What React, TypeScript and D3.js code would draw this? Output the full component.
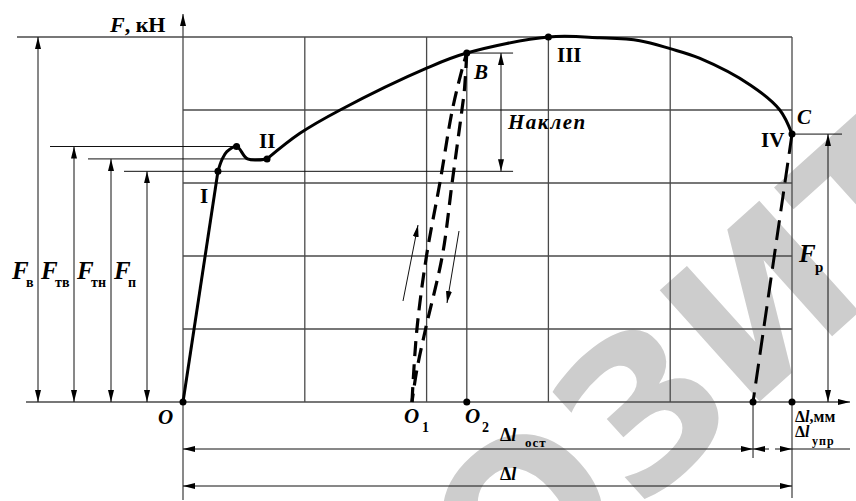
import React from "react";
import * as d3 from "d3";

// Grid cell indices (1 unit = one grid cell)
const gridX = [0, 1, 2, 3, 4, 5];
const gridY = [0, 1, 2, 3, 4, 5];

// Characteristic loads, kN (in grid units)
const Fp = 3.16; // proportional limit (point I)
const Ftn = 3.33; // lower yield
const Ftv = 3.5; // upper yield
const Fv = 5.0; // ultimate (point III)
const Fr = 3.67; // rupture (point C)

// Elongation marks
const dO2 = 2.33;
const dElastEnd = 4.68;
const dC = 5.0;

// Tension curve segments [Δl, F]
const elasticPart: [number, number][] = [
  [0, 0],
  [0.287, Fp],
];
const yieldPart: [number, number][] = [
  [0.287, Fp],
  [0.32, 3.32],
  [0.36, 3.43],
  [0.44, Ftv],
  [0.53, Ftn],
  [0.69, Ftn],
];
const hardeningPart: [number, number][] = [
  [0.69, Ftn],
  [0.96, 3.68],
  [1.29, 4.0],
  [2.01, 4.58],
  [2.33, 4.78],
  [3.0, Fv],
  [3.42, 4.99],
  [3.75, 4.95],
  [4.0, 4.84],
  [4.24, 4.71],
  [4.66, 4.34],
  [4.9, 4.0],
  [5.0, Fr],
];
// Reloading / unloading loop between O1 and B
const reloadPath: [number, number][] = [
  [1.88, 0],
  [1.92, 0.99],
  [2.0, 2.01],
  [2.11, 3.01],
  [2.21, 3.99],
  [2.29, 4.55],
  [2.33, 4.78],
];
const unloadPath: [number, number][] = [
  [2.33, 4.78],
  [2.31, 4.27],
  [2.29, 4.0],
  [2.21, 3.01],
  [2.13, 2.01],
  [1.99, 0.99],
  [1.92, 0.44],
  [1.88, 0],
];
const breakUnload: [number, number][] = [
  [dC, Fr],
  [dElastEnd, 0],
];

const pointB: [number, number] = [2.33, 4.78];
const pointIII: [number, number] = [3.0, Fv];
const upperYield: [number, number] = [0.44, Ftv];
const pointII: [number, number] = [0.69, Ftn];
const pointI: [number, number] = [0.287, Fp];

const leftLoads = [
  { v: Fv, x: 38, lineFrom: 17, lineTo: 5, labelX: 12, sub: "в" },
  { v: Ftv, x: 74, lineFrom: 50, lineTo: 0.44, labelX: 41, sub: "тв" },
  { v: Ftn, x: 111, lineFrom: 88, lineTo: 0.69, labelX: 77, sub: "тн" },
  { v: Fp, x: 147, lineFrom: 124, lineTo: 2.71, labelX: 114, sub: "п" },
];

const SERIF = "Liberation Serif";

export default function App() {
  const x = d3.scaleLinear().domain([0, 5]).range([183, 792]);
  const y = d3.scaleLinear().domain([0, 5]).range([402, 37]);

  const lin = d3
    .line<[number, number]>()
    .x((d) => x(d[0]))
    .y((d) => y(d[1]));
  const smooth = d3
    .line<[number, number]>()
    .x((d) => x(d[0]))
    .y((d) => y(d[1]))
    .curve(d3.curveCatmullRom.alpha(0.5));

  const thin = { stroke: "#111", strokeWidth: 1 };
  const grid = { stroke: "#4a4a4a", strokeWidth: 1.3 };

  const dots: [number, number][] = [
    [0, 0],
    pointI,
    upperYield,
    pointII,
    pointB,
    pointIII,
    [dC, Fr],
    [dO2, 0],
    [dElastEnd, 0],
    [dC, 0],
  ];

  const bt = {
    fontFamily: SERIF,
    fontWeight: 700,
    fill: "#000",
  };

  return (
    <svg
      width={856}
      height={501}
      style={{ position: "absolute", left: 0, top: 0, background: "#fff" }}
    >
      <defs>
        <marker
          id="ah"
          viewBox="0 0 12 6"
          refX={12}
          refY={3}
          markerWidth={12}
          markerHeight={6}
          markerUnits="userSpaceOnUse"
          orient="auto-start-reverse"
        >
          <path d="M0,0 L12,3 L0,6 Z" fill="#000" />
        </marker>
      </defs>

      {/* watermark */}
      <text
        transform="translate(508,628) rotate(-42)"
        fontFamily="DejaVu Sans"
        fontWeight={700}
        fontSize={205}
        fill="#cdcdcd"
      >
        ОЗИТ
      </text>

      {/* grid */}
      {gridY.slice(1, 5).map((g) => (
        <line key={"gy" + g} x1={x(0)} x2={x(5)} y1={y(g)} y2={y(g)} {...grid} />
      ))}
      {gridX.slice(1, 5).map((g) => (
        <line key={"gx" + g} x1={x(g)} x2={x(g)} y1={y(0)} y2={y(5)} {...grid} />
      ))}
      <line x1={x(5)} x2={x(5)} y1={y(5)} y2={498} {...grid} />
      <line x1={x(dO2)} x2={x(dO2)} y1={y(pointB[1])} y2={y(0)} {...grid} />

      {/* axes */}
      <line x1={x(0)} x2={x(0)} y1={500} y2={14} {...grid} markerEnd="url(#ah)" />
      <line x1={26} x2={850} y1={y(0)} y2={y(0)} {...grid} markerEnd="url(#ah)" />

      {/* characteristic load lines and dimension arrows */}
      {leftLoads.map((l) => (
        <g key={l.sub}>
          <line
            x1={l.lineFrom}
            x2={x(l.lineTo)}
            y1={y(l.v)}
            y2={y(l.v)}
            {...(l.v === Fv ? grid : thin)}
          />
          <line
            x1={l.x}
            x2={l.x}
            y1={y(0)}
            y2={y(l.v)}
            {...thin}
            markerStart="url(#ah)"
            markerEnd="url(#ah)"
          />
          <text x={l.labelX} y={279} {...bt} fontSize={25} fontStyle="italic">
            F
          </text>
          <text x={l.labelX + 14} y={287} {...bt} fontSize={14}>
            {l.sub}
          </text>
        </g>
      ))}

      {/* work hardening dimension */}
      <line x1={x(pointB[0])} x2={x(2.71)} y1={y(pointB[1])} y2={y(pointB[1])} {...thin} />
      <line
        x1={501}
        x2={501}
        y1={y(pointB[1])}
        y2={y(Fp)}
        {...thin}
        markerStart="url(#ah)"
        markerEnd="url(#ah)"
      />

      {/* rupture load dimension */}
      <line x1={x(dC)} x2={842} y1={y(Fr)} y2={y(Fr)} {...thin} />
      <line
        x1={828}
        x2={828}
        y1={y(0)}
        y2={y(Fr)}
        {...thin}
        markerStart="url(#ah)"
        markerEnd="url(#ah)"
      />

      {/* elongation dimensions */}
      <line x1={x(dElastEnd)} x2={x(dElastEnd)} y1={y(0)} y2={458} {...thin} />
      <line
        x1={x(0)}
        x2={x(dElastEnd)}
        y1={449}
        y2={449}
        {...thin}
        markerStart="url(#ah)"
        markerEnd="url(#ah)"
      />
      <line x1={x(dElastEnd) + 16} x2={x(dElastEnd)} y1={449} y2={449} {...thin} markerEnd="url(#ah)" />
      <line x1={x(dElastEnd) + 22} x2={x(dC)} y1={449} y2={449} {...thin} markerEnd="url(#ah)" />
      <line x1={x(dC)} x2={850} y1={449} y2={449} {...thin} />
      <line
        x1={x(0)}
        x2={x(dC)}
        y1={486}
        y2={486}
        {...thin}
        markerStart="url(#ah)"
        markerEnd="url(#ah)"
      />

      {/* loop direction arrows */}
      <line x1={403} x2={418} y1={301} y2={225} {...thin} markerEnd="url(#ah)" />
      <line x1={459} x2={447} y1={231} y2={303} {...thin} markerEnd="url(#ah)" />

      {/* tension curve */}
      <path d={lin(elasticPart) ?? ""} fill="none" stroke="#000" strokeWidth={3} />
      <path d={smooth(yieldPart) ?? ""} fill="none" stroke="#000" strokeWidth={3} strokeLinejoin="round" />
      <path d={smooth(hardeningPart) ?? ""} fill="none" stroke="#000" strokeWidth={3} />

      {/* unloading / reloading */}
      <path d={smooth(reloadPath) ?? ""} fill="none" stroke="#000" strokeWidth={3.2} strokeDasharray="15 8" />
      <path d={smooth(unloadPath) ?? ""} fill="none" stroke="#000" strokeWidth={3.2} strokeDasharray="15 8" />
      <path d={lin(breakUnload) ?? ""} fill="none" stroke="#000" strokeWidth={3} strokeDasharray="20 9" />

      {dots.map((d, i) => (
        <circle key={i} cx={x(d[0])} cy={y(d[1])} r={3.5} fill="#000" />
      ))}

      {/* labels */}
      <text x={110} y={32} {...bt} fontSize={22}>
        <tspan fontStyle="italic">F</tspan>, кН
      </text>
      <text x={200} y={203} {...bt} fontSize={21}>I</text>
      <text x={259} y={148} {...bt} fontSize={21}>II</text>
      <text x={557} y={62} {...bt} fontSize={21}>III</text>
      <text x={761} y={147} {...bt} fontSize={21}>IV</text>
      <text x={474} y={79} {...bt} fontSize={21} fontStyle="italic">B</text>
      <text x={797} y={124} {...bt} fontSize={21} fontStyle="italic">C</text>
      <text x={508} y={129} {...bt} fontSize={21} fontStyle="italic" letterSpacing={1.5}>
        Наклеп
      </text>
      <text x={799} y={262} {...bt} fontSize={25} fontStyle="italic">F</text>
      <text x={815} y={272} {...bt} fontSize={15}>р</text>

      <text x={158} y={424} {...bt} fontSize={21} fontStyle="italic">O</text>
      <text x={404} y={423} {...bt} fontSize={21} fontStyle="italic">O</text>
      <text x={422} y={432} {...bt} fontSize={14}>1</text>
      <text x={465} y={423} {...bt} fontSize={21} fontStyle="italic">O</text>
      <text x={482} y={432} {...bt} fontSize={14}>2</text>

      <text x={500} y={441} {...bt} fontSize={18}>
        Δ<tspan fontStyle="italic">l</tspan>
      </text>
      <text x={525} y={447} {...bt} fontSize={13} letterSpacing={1}>ост</text>
      <text x={500} y={480} {...bt} fontSize={18}>
        Δ<tspan fontStyle="italic">l</tspan>
      </text>
      <text x={795} y={422} {...bt} fontSize={16}>
        Δ<tspan fontStyle="italic">l</tspan>,мм
      </text>
      <text x={795} y={437} {...bt} fontSize={16}>
        Δ<tspan fontStyle="italic">l</tspan>
      </text>
      <text x={812} y={445} {...bt} fontSize={12} letterSpacing={1}>упр</text>
    </svg>
  );
}
